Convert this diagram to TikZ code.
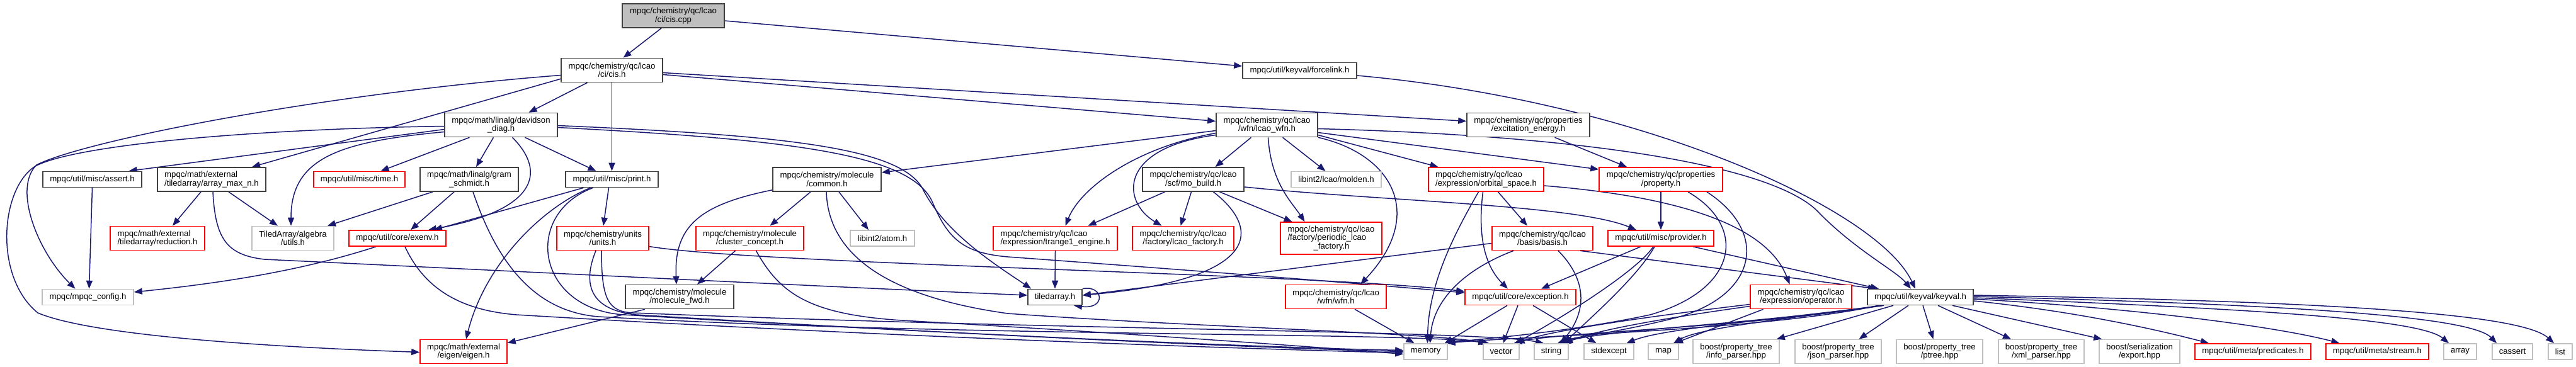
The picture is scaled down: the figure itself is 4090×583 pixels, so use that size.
\documentclass[tikz,border=0pt]{standalone}
\usepackage{fontspec}
\setmainfont{Liberation Sans}
\usetikzlibrary{arrows.meta}
\definecolor{edgec}{HTML}{191970}
\definecolor{blk}{HTML}{404040}
\definecolor{gry}{HTML}{BFBFBF}
\definecolor{rdc}{HTML}{FF0000}
\pgfdeclarelayer{bg}
\pgfsetlayers{bg,main}
\tikzset{
 box/.style={line width=1.6pt, fill=white, inner sep=0pt, align=center, font=\fontsize{13.2}{13.5}\selectfont},
 bk/.style={box, draw=blk},
 rd/.style={box, draw=rdc},
 gy/.style={box, draw=gry},
 rootbox/.style={box, draw=blk, fill=gry},
 lft/.style={align=left},
 e/.style={draw=edgec, line width=1.5pt, -{Triangle[length=13pt,width=10pt]}},
}
\newcommand\mynode[6]{\node[#1, minimum width=#4pt, minimum height=#5pt] (#2) at (#3) {#6};}
\begin{document}
\begin{tikzpicture}[x=1pt,y=-1pt]
\useasboundingbox (0,0) rectangle (4090,583);
% row 0/1
\mynode{rootbox}{cpp}{1069,25}{162}{38}{mpqc/chemistry/qc/lcao\\/ci/cis.cpp}
\mynode{bk}{cish}{971.5,111.5}{161}{38}{mpqc/chemistry/qc/lcao\\/ci/cis.h}
\mynode{bk}{forcelink}{2063.5,112}{181}{25}{mpqc/util/keyval/forcelink.h}
% row 2
\mynode{bk}{davidson}{795.5,198.5}{179}{38}{mpqc/math/linalg/davidson\\\_diag.h}
\mynode{bk}{lcaowfn}{2011.5,198.5}{161}{38}{mpqc/chemistry/qc/lcao\\/wfn/lcao\_wfn.h}
\mynode{bk}{excit}{2426.5,198.5}{195}{38}{mpqc/chemistry/qc/properties\\/excitation\_energy.h}
% row 3
\mynode{bk}{assert}{146.5,285}{157}{25}{mpqc/util/misc/assert.h}
\mynode{bk,lft}{amaxn}{336,285}{172}{38}{mpqc/math/external\\/tiledarray/array\_max\_n.h}
\mynode{rd}{time}{570.5,285}{145}{25}{mpqc/util/misc/time.h}
\mynode{bk}{gram}{745,285}{156}{38}{mpqc/math/linalg/gram\\\_schmidt.h}
\mynode{bk}{print}{971.5,285}{147}{25}{mpqc/util/misc/print.h}
\mynode{bk}{common}{1313,285}{172}{38}{mpqc/chemistry/molecule\\/common.h}
\mynode{bk}{mobuild}{1894.5,285}{161}{38}{mpqc/chemistry/qc/lcao\\/scf/mo\_build.h}
\mynode{gy}{molden}{2121.5,285}{143}{25}{libint2/lcao/molden.h}
\mynode{rd,lft}{orbsp}{2359.5,285}{183}{38}{mpqc/chemistry/qc/lcao\\/expression/orbital\_space.h}
\mynode{rd}{property}{2637,285}{196}{38}{mpqc/chemistry/qc/properties\\/property.h}
% row 4
\mynode{rd,lft}{reduction}{250,378.5}{150}{38}{mpqc/math/external\\/tiledarray/reduction.h}
\mynode{gy}{tautils}{465,378.5}{130}{38}{TiledArray/algebra\\/utils.h}
\mynode{rd}{exenv}{631,378.5}{154}{25}{mpqc/util/core/exenv.h}
\mynode{rd}{units}{957,378.5}{146}{38}{mpqc/chemistry/units\\/units.h}
\mynode{rd}{cluster}{1190.5,378.5}{171}{38}{mpqc/chemistry/molecule\\/cluster\_concept.h}
\mynode{gy}{atom}{1401,378.5}{102}{25}{libint2/atom.h}
\mynode{rd,lft}{trange}{1675.5,378.5}{197}{38}{mpqc/chemistry/qc/lcao\\/expression/trange1\_engine.h}
\mynode{rd}{lcaofac}{1878.5,378.5}{161}{38}{mpqc/chemistry/qc/lcao\\/factory/lcao\_factory.h}
\mynode{rd,lft}{periodic}{2113.5,378.5}{161}{51}{mpqc/chemistry/qc/lcao\\/factory/periodic\_lcao\\\hspace*{41pt}\_factory.h}
\mynode{rd}{basis}{2449,378.5}{160}{38}{mpqc/chemistry/qc/lcao\\/basis/basis.h}
\mynode{rd}{provider}{2637,378.5}{168}{25}{mpqc/util/misc/provider.h}
% row 5
\mynode{gy}{config}{139.5,472}{145}{25}{mpqc/mpqc\_config.h}
\mynode{bk}{molfwd}{1079,471.5}{172}{38}{mpqc/chemistry/molecule\\/molecule\_fwd.h}
\mynode{bk}{tiledarray}{1675,472}{86}{25}{tiledarray.h}
\mynode{rd}{wfn}{2121,471.5}{160}{38}{mpqc/chemistry/qc/lcao\\/wfn/wfn.h}
\mynode{rd}{exception}{2414,472}{176}{25}{mpqc/util/core/exception.h}
\mynode{rd}{operator}{2859.5,471.5}{161}{38}{mpqc/chemistry/qc/lcao\\/expression/operator.h}
\mynode{bk}{keyval}{3049,472}{168}{25}{mpqc/util/keyval/keyval.h}
% row 6
\mynode{rd}{eigen}{736,558.5}{138}{38}{mpqc/math/external\\/eigen/eigen.h}
\mynode{gy}{memory}{2263.5,558.5}{69}{25}{memory}
\mynode{gy}{vector}{2383.5,558.5}{57}{25}{vector}
\mynode{gy}{string}{2463,558.5}{54}{25}{string}
\mynode{gy}{stdexcept}{2554.5,558.5}{79}{25}{stdexcept}
\mynode{gy}{map}{2641,558.5}{48}{25}{map}
\mynode{gy}{info}{2756.5,558.5}{137}{38}{boost/property\_tree\\/info\_parser.hpp}
\mynode{gy}{json}{2918.5,558.5}{137}{38}{boost/property\_tree\\/json\_parser.hpp}
\mynode{gy}{ptree}{3079.5,558.5}{137}{38}{boost/property\_tree\\/ptree.hpp}
\mynode{gy}{xml}{3241,558.5}{136}{38}{boost/property\_tree\\/xml\_parser.hpp}
\mynode{gy}{export}{3397,558.5}{128}{38}{boost/serialization\\/export.hpp}
\mynode{rd}{predicates}{3577,558.5}{184}{25}{mpqc/util/meta/predicates.h}
\mynode{rd}{stream}{3774.5,558.5}{163}{25}{mpqc/util/meta/stream.h}
\mynode{gy}{array}{3906,558.5}{52}{25}{array}
\mynode{gy}{cassert}{3989,558.5}{64}{25}{cassert}
\mynode{gy}{list}{4065,558.5}{38}{25}{list}

\begin{pgfonlayer}{bg}
% cis.cpp
\draw[e] ([xshift=-19pt]cpp.south) -- ([xshift=18pt]cish.north);
\draw[e] ([yshift=-8pt]cpp.east) -- ([yshift=7pt]forcelink.west);
% cis.h
\draw[e] ([xshift=-39pt]cish.south) -- ([xshift=44pt]davidson.north);
\draw[e] (cish.south) -- (print.north);
\draw[e] ([yshift=-7pt]cish.east) -- ([yshift=6pt]lcaowfn.west);
\draw[e] ([yshift=-4pt]cish.east) -- ([yshift=6pt]excit.west);
\draw[e] ([yshift=6pt]cish.south west) -- ([xshift=64pt]amaxn.north);
\draw[e] ([yshift=-8pt]cish.west) .. controls (500,150) and (130,225) .. (58,262) .. controls (20,300) and (60,400) .. ([xshift=-20pt]config.north);
% davidson
\draw[e] ([yshift=-2pt]davidson.west) .. controls (400,205) and (120,230) .. (56,264) .. controls (0,300) and (-10,440) .. (60,497) .. controls (150,535) and (450,552) .. ([yshift=-1pt]eigen.west);
\draw[e] ([yshift=-7pt]davidson.west) -- ([xshift=58pt]assert.north);
\draw[e] ([yshift=-11pt]davidson.west) .. controls (540,225) and (462,250) .. ([xshift=-3pt]tautils.north);
\draw[e] ([xshift=-50pt]davidson.south) -- ([xshift=34pt]time.north);
\draw[e] ([xshift=-12pt]davidson.south) -- ([xshift=11pt]gram.north);
\draw[e] ([xshift=18pt]davidson.south) .. controls (870,275) and (850,335) .. ([xshift=49pt]exenv.north);
\draw[e] ([xshift=38pt]davidson.south) -- ([xshift=-25pt]print.north);
\draw[e] ([yshift=-1pt]davidson.east) .. controls (1250,215) and (1430,235) .. (1465,300) .. controls (1500,370) and (1580,420) .. ([xshift=6pt]tiledarray.north west);
\draw[e] ([yshift=-4pt]davidson.east) .. controls (1260,222) and (1445,245) .. (1480,320) .. controls (1505,380) and (1530,402) .. (1600,408) .. controls (1900,430) and (2130,448) .. ([yshift=7pt]exception.west);
% array_max_n
\draw[e] ([xshift=-17pt]amaxn.south) -- ([xshift=24pt]reduction.north);
\draw[e] ([xshift=27pt]amaxn.south) -- ([xshift=-24pt]tautils.north);
\draw[e] ([xshift=2pt]amaxn.south) .. controls (342,380) and (360,405) .. (420,412) .. controls (800,430) and (1300,455) .. ([yshift=3pt]tiledarray.west);
% assert
\draw[e] (assert.south) -- ([xshift=2pt]config.north);
% gram
\draw[e] ([xshift=-58pt]gram.south) -- ([xshift=55pt]tautils.north);
\draw[e] ([xshift=-24pt]gram.south) -- ([xshift=21pt]exenv.north);
\draw[e] ([xshift=6pt]gram.south) .. controls (790,420) and (850,495) .. (950,503) .. controls (1500,535) and (2250,528) .. ([xshift=6pt]vector.north west);
% print
\draw[e] ([xshift=-45pt]print.south) -- ([xshift=58pt]exenv.north);
\draw[e] ([xshift=-34pt]print.south) .. controls (860,330) and (770,420) .. ([xshift=4pt]eigen.north);
\draw[e] ([xshift=-30pt]print.south) .. controls (830,340) and (850,490) .. (990,500) .. controls (1500,530) and (2000,552) .. ([yshift=2pt]memory.west);
\draw[e] ([xshift=-5pt]print.south) -- ([xshift=1pt]units.north);
% units
\draw[e] ([xshift=-11pt]units.south) .. controls (925,450) and (935,492) .. (1010,500) .. controls (1500,530) and (2000,553) .. ([yshift=0pt]memory.west);
\draw[e] ([xshift=-2pt]units.south) .. controls (955,475) and (965,495) .. (1005,497) .. controls (1700,525) and (2350,525) .. ([xshift=-12pt]string.north);
\draw[e] ([yshift=-13pt]units.east) .. controls (1200,420) and (2100,435) .. ([yshift=9pt]exception.west);
% exenv
\draw[e] ([xshift=-34pt]exenv.south) .. controls (480,430) and (350,450) .. ([yshift=8pt]config.east);
\draw[e] ([xshift=12pt]exenv.south) .. controls (670,450) and (720,492) .. (820,500) .. controls (1400,535) and (2000,555) .. ([yshift=-2pt]memory.west);
% common
\draw[e] ([yshift=3pt]common.south west) .. controls (1110,325) and (1070,360) .. ([xshift=-5pt]molfwd.north);
\draw[e] ([xshift=-26pt]common.south) -- ([xshift=32pt]cluster.north);
\draw[e] ([xshift=19pt]common.south) -- ([xshift=-22pt]atom.north);
\draw[e] ([xshift=-1pt]common.south) .. controls (1315,400) and (1400,470) .. (1600,498) .. controls (1900,520) and (2260,528) .. ([xshift=10pt]vector.north west);
% cluster
\draw[e] ([xshift=-23pt]cluster.south) -- ([xshift=28pt]molfwd.north);
\draw[e] ([xshift=10pt]cluster.south) .. controls (1240,470) and (1290,502) .. (1450,510) .. controls (1800,530) and (2100,552) .. ([yshift=-4pt]memory.west);
% molecule_fwd
\draw[e] ([xshift=-55pt]molfwd.south) -- ([yshift=-6pt]eigen.north east);
% lcao_wfn
\draw[e] ([yshift=-9pt]lcaowfn.west) -- ([yshift=11pt]common.east);
\draw[e] ([yshift=-13pt]lcaowfn.west) .. controls (1800,235) and (1715,300) .. ([xshift=16pt]trange.north);
\draw[e] ([yshift=-16pt]lcaowfn.west) .. controls (1775,235) and (1780,320) .. ([xshift=-34pt]lcaofac.north);
\draw[e] ([xshift=-25pt]lcaowfn.south) -- ([xshift=35pt]mobuild.north);
\draw[e] ([xshift=2pt]lcaowfn.south) .. controls (2018,290) and (2050,320) .. ([xshift=-42pt]periodic.north);
\draw[e] ([xshift=25pt]lcaowfn.south) -- ([xshift=-17pt]molden.north);
\draw[e] ([yshift=-6pt]lcaowfn.east) .. controls (2500,215) and (2820,260) .. (2890,340) .. controls (2950,400) and (3010,430) .. ([xshift=-15pt]keyval.north);
\draw[e] ([yshift=-12pt]lcaowfn.east) -- ([yshift=16pt]property.west);
\draw[e] ([yshift=-16pt]lcaowfn.east) -- ([xshift=-76pt]orbsp.north);
\draw[e] (lcaowfn.south east) .. controls (2210,245) and (2265,340) .. ([xshift=39pt]wfn.north);
% mo_build
\draw[e] ([xshift=-45pt]mobuild.south) -- ([xshift=52pt]trange.north);
\draw[e] ([xshift=-3pt]mobuild.south) -- ([xshift=-4pt]lcaofac.north);
\draw[e] ([xshift=32pt]mobuild.south) .. controls (2010,370) and (1990,445) .. ([yshift=3pt]tiledarray.east);
\draw[e] ([xshift=42pt]mobuild.south) -- ([xshift=-62pt]periodic.north);
\draw[e] ([yshift=-12pt]mobuild.east) .. controls (2200,320) and (2500,325) .. ([xshift=-39pt]provider.north);
% trange1_engine, tiledarray
\draw[e] (trange.south) -- (tiledarray.north);
\draw[e] (tiledarray.north east) .. controls (1752,452) and (1757,492) .. ([xshift=30pt]tiledarray.south);
% excitation_energy
\draw[e] ([xshift=42pt]excit.south) -- ([xshift=-54pt]property.north);
% orbital_space
\draw[e] ([xshift=19pt]orbsp.south) -- ([xshift=-24pt]basis.north);
\draw[e] ([xshift=-12pt]orbsp.south) .. controls (2310,370) and (2268,450) .. ([xshift=3pt]memory.north);
\draw[e] ([xshift=-5pt]orbsp.south) .. controls (2345,380) and (2360,425) .. ([xshift=-20pt]exception.north);
\draw[e] ([yshift=-10pt]orbsp.east) .. controls (2700,315) and (2810,370) .. ([xshift=-18pt]operator.north);
% property
\draw[e] (property.south) -- (provider.north);
\draw[e] ([xshift=43pt]property.south) .. controls (2775,360) and (2760,460) .. (2620,500) .. controls (2480,530) and (2330,540) .. ([xshift=-3pt]memory.north east);
\draw[e] ([xshift=73pt]property.south) .. controls (2810,370) and (2790,470) .. (2660,505) .. controls (2560,530) and (2500,535) .. ([xshift=10pt]string.north);
% provider
\draw[e] ([xshift=-32pt]provider.south) -- ([xshift=33pt]exception.north);
\draw[e] ([xshift=-10pt]provider.south) .. controls (2600,440) and (2520,510) .. ([xshift=20pt]string.north);
\draw[e] ([xshift=-12pt]provider.south) .. controls (2600,430) and (2480,505) .. ([xshift=22pt]vector.north);
\draw[e] ([xshift=51pt]provider.south) -- ([xshift=-66pt]keyval.north);
% basis
\draw[e] ([yshift=-8pt]basis.west) -- ([yshift=3pt]tiledarray.east);
\draw[e] ([xshift=-46pt]basis.south) .. controls (2320,430) and (2275,480) .. ([xshift=7pt]memory.north);
\draw[e] ([xshift=25pt]basis.south) .. controls (2525,450) and (2515,500) .. ([xshift=15pt]string.north);
\draw[e] ([xshift=60pt]basis.south) -- ([xshift=-70pt]keyval.north);
% exception
\draw[e] ([xshift=-21pt]exception.south) -- ([xshift=-5pt]memory.north east);
\draw[e] ([xshift=-4pt]exception.south) -- ([xshift=3pt]vector.north);
\draw[e] ([xshift=20pt]exception.south) -- ([xshift=-20pt]stdexcept.north);
% wfn
\draw[e] ([xshift=30pt]wfn.south) -- ([xshift=-18pt]memory.north);
% operator
\draw[e] ([xshift=-60pt]operator.south) -- ([xshift=18pt]map.north);
\draw[e] ([yshift=-12pt]operator.west) .. controls (2680,495) and (2470,522) .. ([xshift=24pt]vector.north);
\draw[e] ([yshift=-15pt]operator.west) .. controls (2680,500) and (2540,522) .. ([xshift=21pt]string.north);
% forcelink
\draw[e] ([yshift=-8pt]forcelink.east) .. controls (2600,160) and (2980,330) .. ([xshift=-8pt]keyval.north);
% keyval
\draw[e] ([xshift=-66pt]keyval.south) .. controls (2800,525) and (2400,535) .. ([xshift=-1pt]memory.north east);
\draw[e] ([xshift=-64pt]keyval.south) .. controls (2780,520) and (2470,528) .. ([xshift=20pt]vector.north);
\draw[e] ([xshift=-62pt]keyval.south) .. controls (2780,515) and (2540,525) .. ([xshift=18pt]string.north);
\draw[e] ([xshift=-60pt]keyval.south) .. controls (2800,510) and (2640,522) .. ([xshift=28pt]stdexcept.north);
\draw[e] ([xshift=-58pt]keyval.south) .. controls (2850,505) and (2700,520) .. ([xshift=16pt]map.north);
\draw[e] ([xshift=-43pt]keyval.south) -- ([xshift=-5pt]info.north east);
\draw[e] ([xshift=-19pt]keyval.south) -- ([xshift=33pt]json.north);
\draw[e] ([xshift=4pt]keyval.south) -- ([xshift=-10pt]ptree.north);
\draw[e] ([xshift=28pt]keyval.south) -- ([xshift=-48pt]xml.north);
\draw[e] ([xshift=51pt]keyval.south) -- ([xshift=5pt]export.north west);
\draw[e] ([yshift=-6pt]keyval.east) .. controls (3300,495) and (3430,525) .. ([xshift=-70pt]predicates.north);
\draw[e] ([yshift=-3pt]keyval.east) .. controls (3400,490) and (3620,520) .. ([xshift=-60pt]stream.north);
\draw[e] ([yshift=-1pt]keyval.east) .. controls (3550,490) and (3840,505) .. ([xshift=-18pt]array.north);
\draw[e] ([yshift=1pt]keyval.east) .. controls (3600,483) and (3920,500) .. ([xshift=-25pt]cassert.north);
\draw[e] ([yshift=3pt]keyval.east) .. controls (3650,478) and (4000,495) .. ([xshift=-10pt]list.north);
\end{pgfonlayer}
\end{tikzpicture}
\end{document}
